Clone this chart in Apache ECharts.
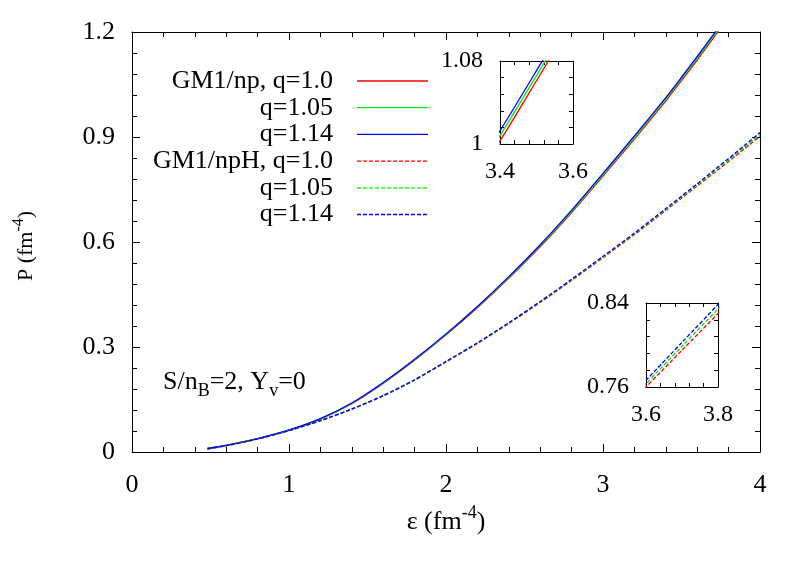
<!DOCTYPE html>
<html>
<head>
<meta charset="utf-8">
<title>P vs epsilon</title>
<script src="https://cdn.jsdelivr.net/npm/echarts@6/dist/echarts.min.js"></script>
<style>
  html, body { margin: 0; padding: 0; background: #fff; }
  #chart { width: 807px; height: 565px; }
</style>
</head>
<body>
<div id="chart"></div>
<script>
// energy density (fm^-4)
const eps = [0.48, 0.6, 0.8, 1.0, 1.2, 1.4, 1.6, 1.8, 2.0, 2.2, 2.4, 2.6, 2.8, 3.0, 3.2, 3.4, 3.5, 3.6, 3.7, 3.8, 3.9, 4.0]

// GM1/np (solid)
const npQ100 = [0.010, 0.019, 0.038, 0.062, 0.094, 0.138, 0.196, 0.262, 0.334, 0.412, 0.496, 0.586, 0.684, 0.788, 0.894, 1.003, 1.061, 1.120, 1.181, 1.243, 1.306, 1.371]
const npQ105 = [0.010, 0.019, 0.038, 0.0625, 0.0948, 0.139, 0.1973, 0.2635, 0.3358, 0.414, 0.4985, 0.589, 0.6875, 0.792, 0.8985, 1.0081, 1.0659, 1.125, 1.186, 1.248, 1.311, 1.376]
const npQ114 = [0.010, 0.019, 0.0385, 0.063, 0.0955, 0.140, 0.1985, 0.265, 0.3375, 0.416, 0.501, 0.592, 0.691, 0.796, 0.903, 1.0127, 1.0707, 1.130, 1.191, 1.253, 1.316, 1.381]

// GM1/npH (dashed)
const nphQ100 = [0.009, 0.018, 0.037, 0.061, 0.089, 0.122, 0.160, 0.205, 0.257, 0.310, 0.367, 0.427, 0.490, 0.555, 0.621, 0.690, 0.725, 0.760, 0.795, 0.830, 0.866, 0.902]
const nphQ105 = [0.009, 0.018, 0.0372, 0.0613, 0.0894, 0.1225, 0.1607, 0.2058, 0.2579, 0.311, 0.3683, 0.4285, 0.4918, 0.557, 0.6233, 0.6928, 0.728, 0.7632, 0.7988, 0.8343, 0.8708, 0.9073]
const nphQ114 = [0.009, 0.018, 0.0373, 0.0615, 0.0898, 0.123, 0.1613, 0.2065, 0.2588, 0.312, 0.3695, 0.430, 0.4935, 0.559, 0.6255, 0.6955, 0.731, 0.7664, 0.8025, 0.8386, 0.8755, 0.9125]

const legendNames = ['GM1/np, q=1.0', 'q=1.05', 'q=1.14', 'GM1/npH, q=1.0', 'q=1.05', 'q=1.14']

// inset ticks / labels
const in1XTicks = [3.4, 3.44, 3.48, 3.52, 3.56, 3.6]
const in1XLabels = [3.4, 3.6]
const in1YTicks = [1, 1.016, 1.032, 1.048, 1.064, 1.08]
const in1YLabels = [1, 1.08]
const in2XTicks = [3.6, 3.64, 3.68, 3.72, 3.76, 3.8]
const in2XLabels = [3.6, 3.8]
const in2YTicks = [0.76, 0.776, 0.792, 0.808, 0.824, 0.84]
const in2YLabels = [0.76, 0.84]

const RED = '#ff0000'
const GREEN = '#00ee00'
const BLUE = '#0000ff'
const FONT = 'Liberation Serif'

const toPairs = arr => eps.map((e, i) => [e, arr[i]])

function mkAxis(gridIndex, pos, opts) {
  return Object.assign({
    type: 'value',
    gridIndex: gridIndex,
    position: pos,
    axisLine: { show: true, onZero: false, lineStyle: { color: '#000', width: 1 } },
    splitLine: { show: false },
    minorSplitLine: { show: false }
  }, opts)
}

function curve(name, data, color, dashed, xi, yi) {
  return {
    name: name,
    type: 'line',
    xAxisIndex: xi,
    yAxisIndex: yi,
    data: toPairs(data),
    symbol: 'none',
    smooth: 0.25,
    clip: true,
    silent: true,
    lineStyle: { color: color, width: 1.3, type: dashed ? [4, 2] : 'solid' }
  }
}

const mainLabel = { fontFamily: FONT, fontSize: 26, color: '#000' }
const insetLabel = { fontFamily: FONT, fontSize: 24, color: '#000' }

const chart = echarts.init(document.getElementById('chart'), null, { renderer: 'canvas' })

// legend samples
const legendGraphics = []
const legendColors = [RED, GREEN, BLUE, RED, GREEN, BLUE]
legendNames.forEach((n, i) => {
  const y = 81 + i * 26.7
  legendGraphics.push({
    type: 'text', x: 333, y: y,
    style: { text: n, fontFamily: FONT, fontSize: 26, fill: '#000', align: 'right', verticalAlign: 'middle' }
  })
  legendGraphics.push({
    type: 'line',
    shape: { x1: 357, y1: y, x2: 428, y2: y },
    style: { stroke: legendColors[i], lineWidth: 1.3, lineDash: i > 2 ? [4, 2] : null }
  })
})

const tickMain = { inside: true, length: 8, lineStyle: { color: '#000' } }
const minorMain = { show: true, splitNumber: 5, length: 5, lineStyle: { color: '#000' } }
const tickInset = vals => ({ inside: true, length: 4, customValues: vals, lineStyle: { color: '#000' } })

chart.setOption({
  animation: false,
  backgroundColor: '#fff',
  grid: [
    { left: 132, right: 47, top: 32, bottom: 113 },
    { left: 500, top: 61, width: 73, height: 83 },
    { left: 646, top: 303, width: 72, height: 84 }
  ],
  xAxis: [
    mkAxis(0, 'bottom', {
      min: 0, max: 4, interval: 1,
      axisTick: tickMain, minorTick: minorMain,
      axisLabel: Object.assign({ margin: 20 }, mainLabel)
    }),
    mkAxis(0, 'top', {
      min: 0, max: 4, interval: 1,
      axisTick: tickMain, minorTick: minorMain,
      axisLabel: { show: false }
    }),
    mkAxis(1, 'bottom', {
      min: 3.4, max: 3.6,
      axisTick: tickInset(in1XTicks),
      axisLabel: Object.assign({ margin: 16, customValues: in1XLabels }, insetLabel)
    }),
    mkAxis(1, 'top', {
      min: 3.4, max: 3.6,
      axisTick: tickInset(in1XTicks),
      axisLabel: { show: false }
    }),
    mkAxis(2, 'bottom', {
      min: 3.6, max: 3.8,
      axisTick: tickInset(in2XTicks),
      axisLabel: Object.assign({ margin: 16, customValues: in2XLabels }, insetLabel)
    }),
    mkAxis(2, 'top', {
      min: 3.6, max: 3.8,
      axisTick: tickInset(in2XTicks),
      axisLabel: { show: false }
    })
  ],
  yAxis: [
    mkAxis(0, 'left', {
      min: 0, max: 1.2, interval: 0.3,
      axisTick: tickMain, minorTick: minorMain,
      axisLabel: Object.assign({ margin: 17 }, mainLabel)
    }),
    mkAxis(0, 'right', {
      min: 0, max: 1.2, interval: 0.3,
      axisTick: tickMain, minorTick: minorMain,
      axisLabel: { show: false }
    }),
    mkAxis(1, 'left', {
      min: 1, max: 1.08,
      axisTick: tickInset(in1YTicks),
      axisLabel: Object.assign({ margin: 17, customValues: in1YLabels }, insetLabel)
    }),
    mkAxis(1, 'right', {
      min: 1, max: 1.08,
      axisTick: tickInset(in1YTicks),
      axisLabel: { show: false }
    }),
    mkAxis(2, 'left', {
      min: 0.76, max: 0.84,
      axisTick: tickInset(in2YTicks),
      axisLabel: Object.assign({ margin: 17, customValues: in2YLabels }, insetLabel)
    }),
    mkAxis(2, 'right', {
      min: 0.76, max: 0.84,
      axisTick: tickInset(in2YTicks),
      axisLabel: { show: false }
    })
  ],
  series: [
    curve('np q=1.0', npQ100, RED, false, 0, 0),
    curve('np q=1.05', npQ105, GREEN, false, 0, 0),
    curve('np q=1.14', npQ114, BLUE, false, 0, 0),
    curve('npH q=1.0', nphQ100, RED, true, 0, 0),
    curve('npH q=1.05', nphQ105, GREEN, true, 0, 0),
    curve('npH q=1.14', nphQ114, BLUE, true, 0, 0),
    // upper inset: solid curves
    curve('np q=1.0 inset', npQ100, RED, false, 2, 2),
    curve('np q=1.05 inset', npQ105, GREEN, false, 2, 2),
    curve('np q=1.14 inset', npQ114, BLUE, false, 2, 2),
    // lower inset: dashed curves
    curve('npH q=1.0 inset', nphQ100, RED, true, 4, 4),
    curve('npH q=1.05 inset', nphQ105, GREEN, true, 4, 4),
    curve('npH q=1.14 inset', nphQ114, BLUE, true, 4, 4)
  ],
  graphic: legendGraphics.concat([
    {
      type: 'text', x: 446, y: 522,
      style: {
        text: '{n|ε (fm}{s|-4}{n|)}',
        align: 'center', verticalAlign: 'middle',
        rich: {
          n: { fontFamily: FONT, fontSize: 26, fill: '#000', lineHeight: 36 },
          s: { fontFamily: FONT, fontSize: 18, fill: '#000', lineHeight: 18, verticalAlign: 'top' }
        }
      }
    },
    {
      type: 'text', x: 26, y: 246, rotation: Math.PI / 2,
      style: {
        text: '{n|P (fm}{s|-4}{n|)}',
        align: 'center', verticalAlign: 'middle',
        rich: {
          n: { fontFamily: FONT, fontSize: 22, fill: '#000', lineHeight: 30 },
          s: { fontFamily: FONT, fontSize: 16, fill: '#000', lineHeight: 16, verticalAlign: 'top' }
        }
      }
    },
    {
      type: 'text', x: 163, y: 382,
      style: {
        text: '{n|S/n}{b|B}{n|=2, Y}{b|v}{n|=0}',
        align: 'left', verticalAlign: 'middle',
        rich: {
          n: { fontFamily: FONT, fontSize: 26, fill: '#000', lineHeight: 36 },
          b: { fontFamily: FONT, fontSize: 18, fill: '#000', lineHeight: 18, verticalAlign: 'bottom' }
        }
      }
    }
  ])
})
</script>
</body>
</html>
